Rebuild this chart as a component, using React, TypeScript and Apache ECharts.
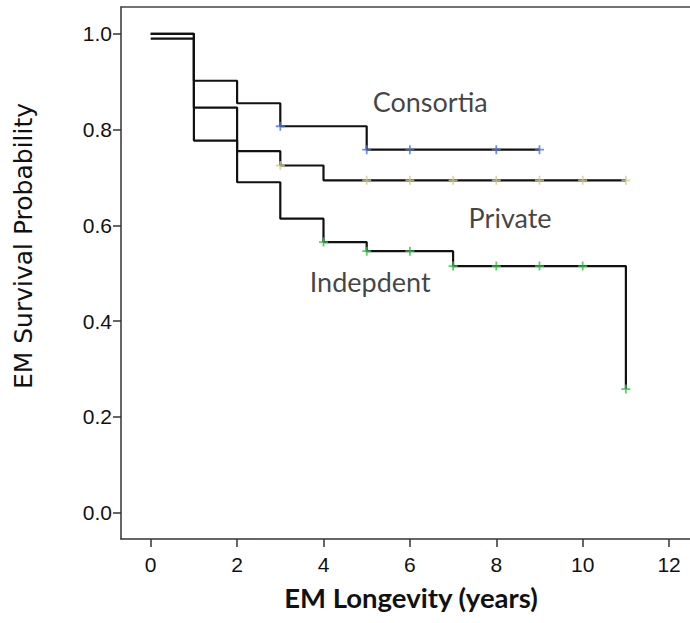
import React, { useEffect, useRef } from "react";
import * as echarts from "echarts";

// Kaplan-Meier step points (time in years, survival probability)
const consortiaTimes = [0, 1, 2, 3, 5, 9];
const consortiaSurv = [1.0, 0.902, 0.855, 0.807, 0.758, 0.758];
const privateTimes = [0, 1, 2, 3, 4, 11];
const privateSurv = [1.0, 0.846, 0.755, 0.725, 0.694, 0.694];
const independentTimes = [0, 1, 2, 3, 4, 5, 7, 11];
const independentSurv = [0.99, 0.777, 0.69, 0.614, 0.565, 0.546, 0.515, 0.258];

// Censoring marks
const consortiaCensT = [3, 5, 6, 8, 9];
const consortiaCensS = [0.807, 0.758, 0.758, 0.758, 0.758];
const privateCensT = [3, 5, 6, 7, 8, 9, 10, 11];
const privateCensS = [0.725, 0.694, 0.694, 0.694, 0.694, 0.694, 0.694, 0.694];
const independentCensT = [4, 5, 6, 7, 8, 9, 10, 11];
const independentCensS = [0.565, 0.546, 0.546, 0.515, 0.515, 0.515, 0.515, 0.258];

// Group labels and their anchor (data coords)
const groupNames = ["Consortia", "Private", "Indepdent"];
const labelAnchorX = [6.47, 8.32, 5.08];
const labelAnchorY = [0.858, 0.617, 0.483];

const xTicks = [0, 2, 4, 6, 8, 10, 12];
const yTicks = [0, 0.2, 0.4, 0.6, 0.8, 1.0];

const xTitle = "EM Longevity (years)";
const yTitle = "EM Survival Probability";

const PLUS = "path://M4,0 L6,0 L6,4 L10,4 L10,6 L6,6 L6,10 L4,10 L4,6 L0,6 L0,4 L4,4 Z";

const zip = (a: number[], b: number[]) => a.map((v, i) => [v, b[i]]);

export default function App() {
  const ref = useRef<HTMLDivElement>(null);
  useEffect(() => {
    if (!ref.current) return;
    const chart = echarts.init(ref.current, null, { renderer: "svg" });
    const lineStyle = { color: "#111", width: 2.2 };
    const stepSeries = (t: number[], s: number[]) => ({
      type: "line",
      step: "end",
      data: zip(t, s),
      showSymbol: false,
      symbol: "none",
      lineStyle,
      z: 2,
      silent: true,
    });
    const censSeries = (t: number[], s: number[], color: string) => ({
      type: "scatter",
      data: zip(t, s),
      symbol: PLUS,
      symbolSize: 9,
      itemStyle: { color },
      z: 3,
      silent: true,
    });
    const tickLabelStyle = {
      fontFamily: "Liberation Sans",
      fontSize: 21,
      color: "#111",
    };
    chart.setOption({
      animation: false,
      grid: { left: 121, right: 0, top: 7, bottom: 84 },
      xAxis: [
        {
          type: "value",
          min: -0.6875,
          max: 12.484,
          splitLine: { show: false },
          axisLine: { show: true, onZero: false, lineStyle: { color: "#333", width: 1.5 } },
          axisTick: {
            show: true,
            length: 8,
            customValues: xTicks,
            lineStyle: { color: "#333", width: 1.5 },
          },
          axisLabel: {
            ...tickLabelStyle,
            margin: 15,
            customValues: xTicks,
            formatter: (v: number) => String(v),
          },
        },
        {
          type: "value",
          position: "top",
          min: -0.6875,
          max: 12.484,
          splitLine: { show: false },
          axisLine: { show: true, onZero: false, lineStyle: { color: "#444", width: 1.5 } },
          axisTick: { show: false },
          axisLabel: { show: false },
        },
      ],
      yAxis: {
        type: "value",
        min: -0.055,
        max: 1.056,
        splitLine: { show: false },
        axisLine: { show: true, onZero: false, lineStyle: { color: "#333", width: 1.5 } },
        axisTick: {
          show: true,
          length: 8,
          customValues: yTicks,
          lineStyle: { color: "#333", width: 1.5 },
        },
        axisLabel: {
          ...tickLabelStyle,
          margin: 9,
          customValues: yTicks,
          formatter: (v: number) => v.toFixed(1),
        },
      },
      series: [
        stepSeries(consortiaTimes, consortiaSurv),
        stepSeries(privateTimes, privateSurv),
        stepSeries(independentTimes, independentSurv),
        censSeries(consortiaCensT, consortiaCensS, "#4f74d4"),
        censSeries(privateCensT, privateCensS, "#d2cc98"),
        censSeries(independentCensT, independentCensS, "#35c24a"),
        {
          type: "scatter",
          data: groupNames.map((n, i) => ({ name: n, value: [labelAnchorX[i], labelAnchorY[i]] })),
          symbolSize: 0,
          silent: true,
          label: {
            show: true,
            position: "inside",
            formatter: (p: any) => p.name,
            fontFamily: "Lato",
            fontSize: 27,
            color: "#111",
            align: "center",
            verticalAlign: "middle",
          },
          z: 4,
        },
      ],
      graphic: [
        {
          type: "text",
          x: 411,
          y: 597,
          style: {
            text: xTitle,
            fontFamily: "Lato",
            fontWeight: "bold",
            fontSize: 27.5,
            fill: "#111",
            align: "center",
            verticalAlign: "middle",
          },
        },
        {
          type: "text",
          x: 23,
          y: 246,
          rotation: Math.PI / 2,
          style: {
            text: yTitle,
            fontFamily: "DejaVu Sans",
            fontSize: 25,
            fill: "#111",
            align: "center",
            verticalAlign: "middle",
          },
        },
      ],
    });
    return () => chart.dispose();
  }, []);
  return (
    <div
      ref={ref}
      style={{ position: "fixed", left: 0, top: 0, width: 690, height: 623, background: "#fff" }}
    />
  );
}
